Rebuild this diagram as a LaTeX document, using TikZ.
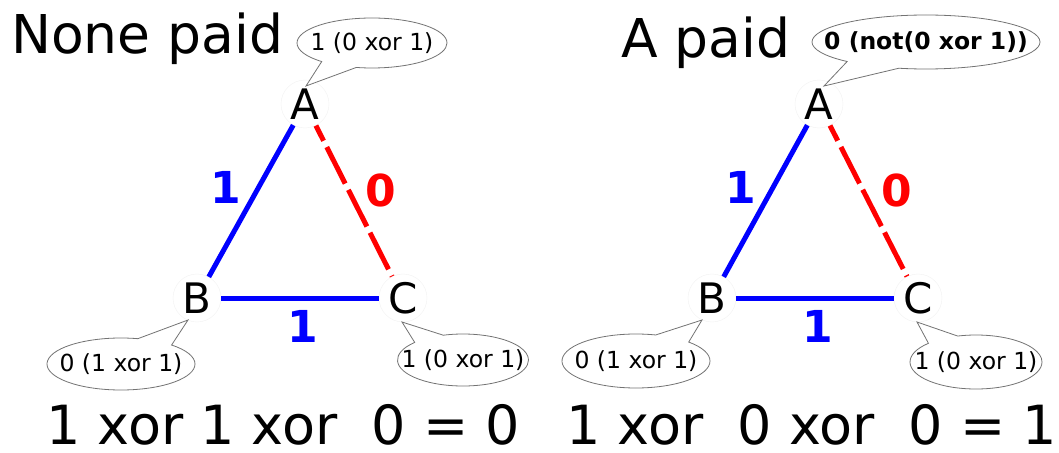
\documentclass[tikz,border=0pt]{standalone}
\usepackage{fontspec}
\setmainfont{DejaVu Sans}
\usetikzlibrary{shapes.callouts}
\begin{document}
\begin{tikzpicture}[x=1pt,y=-1pt,
  vertex/.style={circle,fill=white,draw=black!5,minimum size=48pt,inner sep=0pt,font=\fontsize{42}{42}\selectfont},
  edgeon/.style={draw=blue,line width=5pt},
  edgeoff/.style={draw=red,line width=5pt,dash pattern=on 41pt off 7pt,dash phase=24pt},
  lblon/.style={text=blue,inner sep=0pt,font=\fontsize{44}{44}\selectfont\bfseries},
  lbloff/.style={text=red,inner sep=0pt,font=\fontsize{44}{44}\selectfont\bfseries},
  bubble/.style={ellipse callout,draw=black!55,fill=white,line width=0.8pt,callout pointer arc=30,inner sep=0pt},
  bubbletext/.style={font=\fontsize{23.5}{24}\selectfont,inner sep=0pt},
  title/.style={font=\fontsize{53.5}{54}\selectfont,anchor=base west,inner sep=0pt},
  sumtext/.style={font=\fontsize{54}{54}\selectfont,anchor=base west,inner sep=0pt},
]
\path[use as bounding box] (0,0) rectangle (1059,452);

% ---------- left panel ----------
\node[title] (t1) at (11,53) {None paid};
\node[vertex] (A1) at (305,104) {A};
\node[vertex] (B1) at (197,298) {B};
\node[vertex] (C1) at (403,298) {C};
\draw[edgeon] (A1) -- (B1);
\draw[edgeoff] (A1) -- (C1);
\draw[edgeon] (B1) -- (C1);
\node[lblon] (l1) at (226,187) {1};
\node[lbloff] (l2) at (381,190) {0};
\node[lblon] (l3) at (303,326) {1};

\node[bubble,minimum width=150pt,minimum height=50pt,callout absolute pointer={(306,86)}] (cA1) at (372,43) {};
\node[bubbletext] (tA1) at (cA1.center) {1 (0 xor 1)};
\node[bubble,minimum width=148pt,minimum height=52pt,callout absolute pointer={(188,320)}] (cB1) at (121,364) {};
\node[bubbletext] (tB1) at (cB1.center) {0 (1 xor 1)};
\node[bubble,minimum width=131pt,minimum height=52pt,callout absolute pointer={(402,322)}] (cC1) at (463,360) {};
\node[bubbletext] (tC1) at (cC1.center) {1 (0 xor 1)};

\node[sumtext] (s1) at (46,444) {1 xor 1 xor\ \ 0 = 0};

% ---------- right panel ----------
\node[title] (t2) at (621,58) {A paid};
\node[vertex] (A2) at (819,104) {A};
\node[vertex] (B2) at (712,298) {B};
\node[vertex] (C2) at (918,298) {C};
\draw[edgeon] (A2) -- (B2);
\draw[edgeoff] (A2) -- (C2);
\draw[edgeon] (B2) -- (C2);
\node[lblon] (l4) at (741,187) {1};
\node[lbloff] (l5) at (897,190) {0};
\node[lblon] (l6) at (818,326) {1};

\node[bubble,minimum width=228pt,minimum height=54pt,callout absolute pointer={(824,86)}] (cA2) at (926,42) {};
\node[bubbletext,font=\fontsize{23.5}{24}\selectfont\bfseries] (tA2) at (cA2.center) {0 (not(0 xor 1))};
\node[bubble,minimum width=148pt,minimum height=54pt,callout absolute pointer={(702,320)}] (cB2) at (636,361) {};
\node[bubbletext] (tB2) at (cB2.center) {0 (1 xor 1)};
\node[bubble,minimum width=132pt,minimum height=54pt,callout absolute pointer={(917,322)}] (cC2) at (976,362) {};
\node[bubbletext] (tC2) at (cC2.center) {1 (0 xor 1)};

\node[sumtext] (s2) at (566,444) {1 xor\ \ 0 xor\ \ 0 = 1};
\end{tikzpicture}
\end{document}
